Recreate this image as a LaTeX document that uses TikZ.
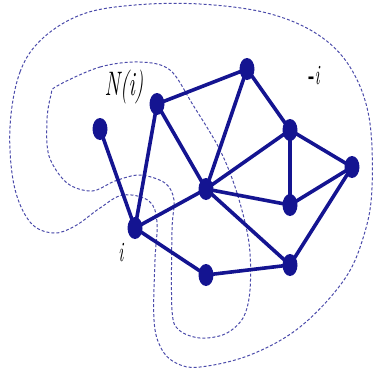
\documentclass[tikz,border=0pt]{standalone}
\usepackage{graphicx}
\usetikzlibrary{shapes.geometric}
\definecolor{navy}{RGB}{20,20,145}
\definecolor{dashblue}{RGB}{75,75,170}
\begin{document}
\begin{tikzpicture}[x=1pt,y=-1pt,
  vtx/.style={ellipse,fill=navy,draw=none,minimum width=15pt,minimum height=22pt,inner sep=0pt},
  edge/.style={navy,line width=3.6pt},
  region/.style={dashblue,line width=1pt,dash pattern=on 3pt off 2pt},
  lbl/.style={inner sep=0pt}]
\useasboundingbox (0,0) rectangle (374,376);
% dashed regions
\draw[region] plot[smooth cycle,tension=0.6] coordinates {
 (10,127) (20,72) (43,38) (83,14) (135,5) (200,4) (267,13) (317,34) (350,67)
 (369,117) (372,188) (364,235) (344,280) (300,327) (250,355) (200,367)
 (176,363) (161,348) (154,320) (155,260) (157,222) (149,201) (123,195)
 (100,208) (75,226) (53,233) (30,222) (14,185)};
\draw[region] plot[smooth cycle,tension=0.55] coordinates {
 (57,86) (100,67) (140,62) (170,70) (193,105) (220,150) (237,193) (249,243)
 (250,290) (243,318) (225,334) (200,338) (179,330) (172,310) (172,230)
 (174,200) (165,183) (140,175) (115,181) (92,191) (67,183) (49,156)
 (47,120) (51,95)};
% edges (drawn between vertex centres, beneath the vertices)
\coordinate (a) at (100,129);
\coordinate (i) at (135,228);
\coordinate (b) at (157,104);
\coordinate (c) at (247,69);
\coordinate (d) at (206,189);
\coordinate (e) at (290,130);
\coordinate (f) at (352,167);
\coordinate (g) at (290,205);
\coordinate (h) at (290,265);
\coordinate (k) at (206,275);
\draw[edge] (a) -- (i);
\draw[edge] (i) -- (b);
\draw[edge] (i) -- (d);
\draw[edge] (i) -- (k);
\draw[edge] (b) -- (c);
\draw[edge] (b) -- (d);
\draw[edge] (c) -- (d);
\draw[edge] (c) -- (e);
\draw[edge] (e) -- (d);
\draw[edge] (e) -- (f);
\draw[edge] (e) -- (g);
\draw[edge] (d) -- (g);
\draw[edge] (d) -- (h);
\draw[edge] (f) -- (g);
\draw[edge] (f) -- (h);
\draw[edge] (k) -- (h);
% vertices
\foreach \n in {a,i,b,c,d,e,f,g,h,k}{\node[vtx] (v\n) at (\n) {};}
% labels
\node[lbl] (lni) at (124,87) {\scalebox{0.62}[1]{\fontsize{34}{34}\selectfont\itshape N(i)}};
\node[lbl] (lmi) at (314,76) {\scalebox{0.6}[1]{\fontsize{28}{28}\selectfont\bfseries -\mdseries\itshape i}};
\node[lbl] (li) at (121,253) {\scalebox{0.6}[1]{\fontsize{28}{28}\selectfont\itshape i}};
\end{tikzpicture}
\end{document}
